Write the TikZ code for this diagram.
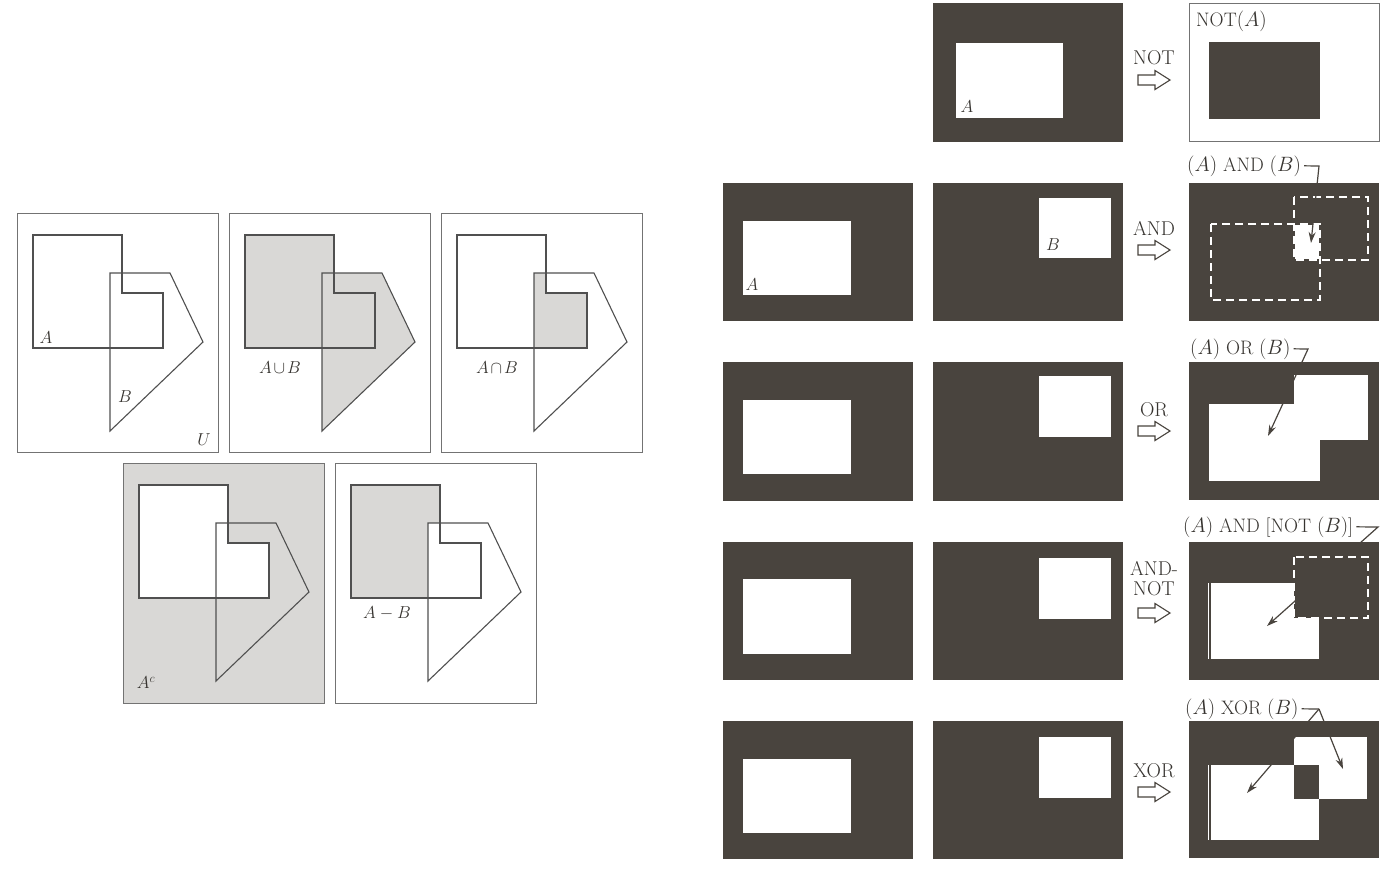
\documentclass[tikz,border=0pt]{standalone}
\usetikzlibrary{arrows.meta}
\definecolor{dark}{RGB}{73,68,62}
\definecolor{vgrey}{RGB}{217,216,214}
\definecolor{vline}{RGB}{80,80,80}
\definecolor{txt}{RGB}{55,52,48}
\begin{document}
\begin{tikzpicture}[x=1pt,y=-1pt,
  panel/.style={draw=black!55,line width=0.9pt},
  vennline/.style={draw=vline,line width=1.1pt,line join=miter},
  Apath/.style={insert path={(16,22) -- (105,22) -- (105,80) -- (146,80) -- (146,135) -- (16,135) -- cycle}},
  Bpath/.style={insert path={(93,60) -- (153,60) -- (186,129) -- (93,218) -- cycle}},
  vlabel/.style={font=\fontsize{18.5}{20}\selectfont,text=txt,inner sep=0},
  imglabel/.style={font=\fontsize{19}{21}\selectfont,text=txt,inner sep=0},
  oplabel/.style={font=\fontsize{20}{22}\selectfont,text=txt,inner sep=0,anchor=base},
  reslabel/.style={font=\fontsize{19.5}{22}\selectfont,text=txt,inner sep=0,anchor=base west},
  darkbox/.style={fill=dark},
  hole/.style={fill=white},
  dashbox/.style={draw=white,dash pattern=on 8pt off 5pt,line width=1.4pt},
  leader/.style={draw=dark,line width=1.2pt},
  ptr/.style={-{Stealth[length=11pt,width=7pt]}},
  thinline/.style={draw=white,line width=1.2pt},
  blockarrow/.pic={\draw[draw=dark,fill=white,line width=1.1pt,line join=miter]
     (-16,-5) -- (1,-5) -- (1,-9.5) -- (16,0) -- (1,9.5) -- (1,5) -- (-16,5) -- cycle;}
]
\useasboundingbox (0,0) rectangle (1390,868);
\fill[white] (0,0) rectangle (1390,868);

% ---------------- Venn diagrams ----------------
% U
\begin{scope}[shift={(17,213)}]
  \draw[panel] (0,0) rectangle (201,239);
  \draw[vennline,Apath];
  \draw[vennline,Bpath];
  \node[vlabel] (vA) at (29,125) {$A$};
  \node[vlabel] (vB) at (108,184) {$B$};
  \node[vlabel] (vU) at (187,227) {$U$};
\end{scope}
% A union B
\begin{scope}[shift={(229,213)}]
  \fill[vgrey,Apath];
  \fill[vgrey,Bpath];
  \draw[panel] (0,0) rectangle (201,239);
  \draw[vennline,Apath];
  \draw[vennline,Bpath];
  \node[vlabel] (vAuB) at (51,155) {$A\mskip2mu{\cup}\mskip2mu B$};
\end{scope}
% A intersect B
\begin{scope}[shift={(441,213)}]
  \begin{scope}
    \clip[Apath];
    \fill[vgrey,Bpath];
  \end{scope}
  \draw[panel] (0,0) rectangle (201,239);
  \draw[vennline,Apath];
  \draw[vennline,Bpath];
  \node[vlabel] (vAnB) at (56,155) {$A\mskip2mu{\cap}\mskip2mu B$};
\end{scope}
% complement of A
\begin{scope}[shift={(123,463)}]
  \fill[vgrey] (0,0) rectangle (201,240);
  \fill[white,Apath];
  \draw[panel] (0,0) rectangle (201,240);
  \draw[vennline,Apath];
  \draw[vennline,Bpath];
  \node[vlabel] (vAc) at (23,220) {$A^c$};
\end{scope}
% A minus B
\begin{scope}[shift={(335,463)}]
  \fill[vgrey,Apath];
  \fill[white,Bpath];
  \draw[panel] (0,0) rectangle (201,240);
  \draw[vennline,Apath];
  \draw[vennline,Bpath];
  \node[vlabel] (vAmB) at (52,150) {$A-B$};
\end{scope}

% ---------------- Image operations ----------------
% Row 1: NOT
\fill[darkbox] (933,3) rectangle (1123,142);
\fill[hole] (956,43) rectangle (1063,118);
\node[imglabel] (r1A) at (967,107) {$A$};
\node[oplabel] (oNOT) at (1154,64) {NOT};
\pic at (1154,80) {blockarrow};
\draw[panel,fill=white] (1189,3) rectangle (1379,141);
\fill[darkbox] (1209,42) rectangle (1320,119);
\node[reslabel] (lNOT) at (1196,26) {NOT$(A)$};

% Row 2: AND
\fill[darkbox] (723,183) rectangle (913,321);
\fill[hole] (743,221) rectangle (851,295);
\node[imglabel] (r2A) at (752,285) {$A$};
\fill[darkbox] (933,183) rectangle (1123,321);
\fill[hole] (1039,198) rectangle (1111,258);
\node[imglabel] (r2B) at (1053,245) {$B$};
\node[oplabel] (oAND) at (1154,235) {AND};
\pic at (1154,250) {blockarrow};
\fill[darkbox] (1189,183) rectangle (1379,321);
\draw[dashbox] (1211,224) rectangle (1320,300);
\draw[dashbox] (1294,197) rectangle (1368,260);
\fill[hole] (1295,225) rectangle (1319,259);
\node[reslabel] (lAND) at (1187,171) {$(A)$ AND $(B)$};
\coordinate (cAND) at (1319,166);
\coordinate (tAND) at (1311,243);
\draw[leader,ptr] ([xshift=3pt]lAND.east) -- (cAND) -- (tAND);

% Row 3: OR
\fill[darkbox] (723,362) rectangle (913,501);
\fill[hole] (743,400) rectangle (851,474);
\fill[darkbox] (933,362) rectangle (1123,501);
\fill[hole] (1039,376) rectangle (1111,437);
\node[oplabel] (oOR) at (1154,416) {OR};
\pic at (1154,431) {blockarrow};
\fill[darkbox] (1189,362) rectangle (1379,500);
\fill[hole] (1209,404) rectangle (1320,481);
\fill[hole] (1294,375) rectangle (1368,440);
\node[reslabel] (lOR) at (1190,354) {$(A)$ OR $(B)$};
\coordinate (cOR) at (1308,349);
\coordinate (tOR) at (1268,436);
\draw[leader,ptr] ([xshift=3pt]lOR.east) -- (cOR) -- (tOR);

% Row 4: AND-NOT
\fill[darkbox] (723,542) rectangle (913,680);
\fill[hole] (743,579) rectangle (851,654);
\fill[darkbox] (933,542) rectangle (1123,680);
\fill[hole] (1039,558) rectangle (1111,619);
\node[oplabel] (oANDNOT1) at (1154,575) {AND-};
\node[oplabel] (oANDNOT2) at (1154,595) {NOT};
\pic at (1154,613) {blockarrow};
\fill[darkbox] (1189,542) rectangle (1379,680);
\fill[hole] (1211,583) rectangle (1319,659);
\draw[thinline] (1208.5,583) -- (1208.5,659);
\fill[darkbox] (1294,557) rectangle (1368,618);
\draw[dashbox] (1294,557) rectangle (1368,618);
\node[reslabel] (lANDNOT) at (1183,532) {$(A)$ AND [NOT $(B)$]};
\coordinate (cANDNOT) at (1378,527);
\coordinate (tANDNOT) at (1267,626);
\draw[leader,ptr] ([xshift=3pt]lANDNOT.east) -- (cANDNOT) -- (tANDNOT);

% Row 5: XOR
\fill[darkbox] (723,721) rectangle (913,859);
\fill[hole] (743,759) rectangle (851,833);
\fill[darkbox] (933,721) rectangle (1123,859);
\fill[hole] (1039,737) rectangle (1111,798);
\node[oplabel] (oXOR) at (1154,777) {XOR};
\pic at (1154,792) {blockarrow};
\fill[darkbox] (1189,721) rectangle (1379,858);
\fill[hole] (1211,765) rectangle (1319,840);
\fill[hole] (1294,737) rectangle (1367,799);
\fill[darkbox] (1294,765) rectangle (1319,799);
\draw[thinline] (1208.5,765) -- (1208.5,840);
\node[reslabel] (lXOR) at (1185,714) {$(A)$ XOR $(B)$};
\coordinate (cXOR) at (1319,709);
\coordinate (tXOR1) at (1343,769);
\coordinate (tXOR2) at (1247,793);
\draw[leader] ([xshift=3pt]lXOR.east) -- (cXOR);
\draw[leader,ptr] (cXOR) -- (tXOR1);
\draw[leader,ptr] (cXOR) -- (tXOR2);
\end{tikzpicture}
\end{document}
